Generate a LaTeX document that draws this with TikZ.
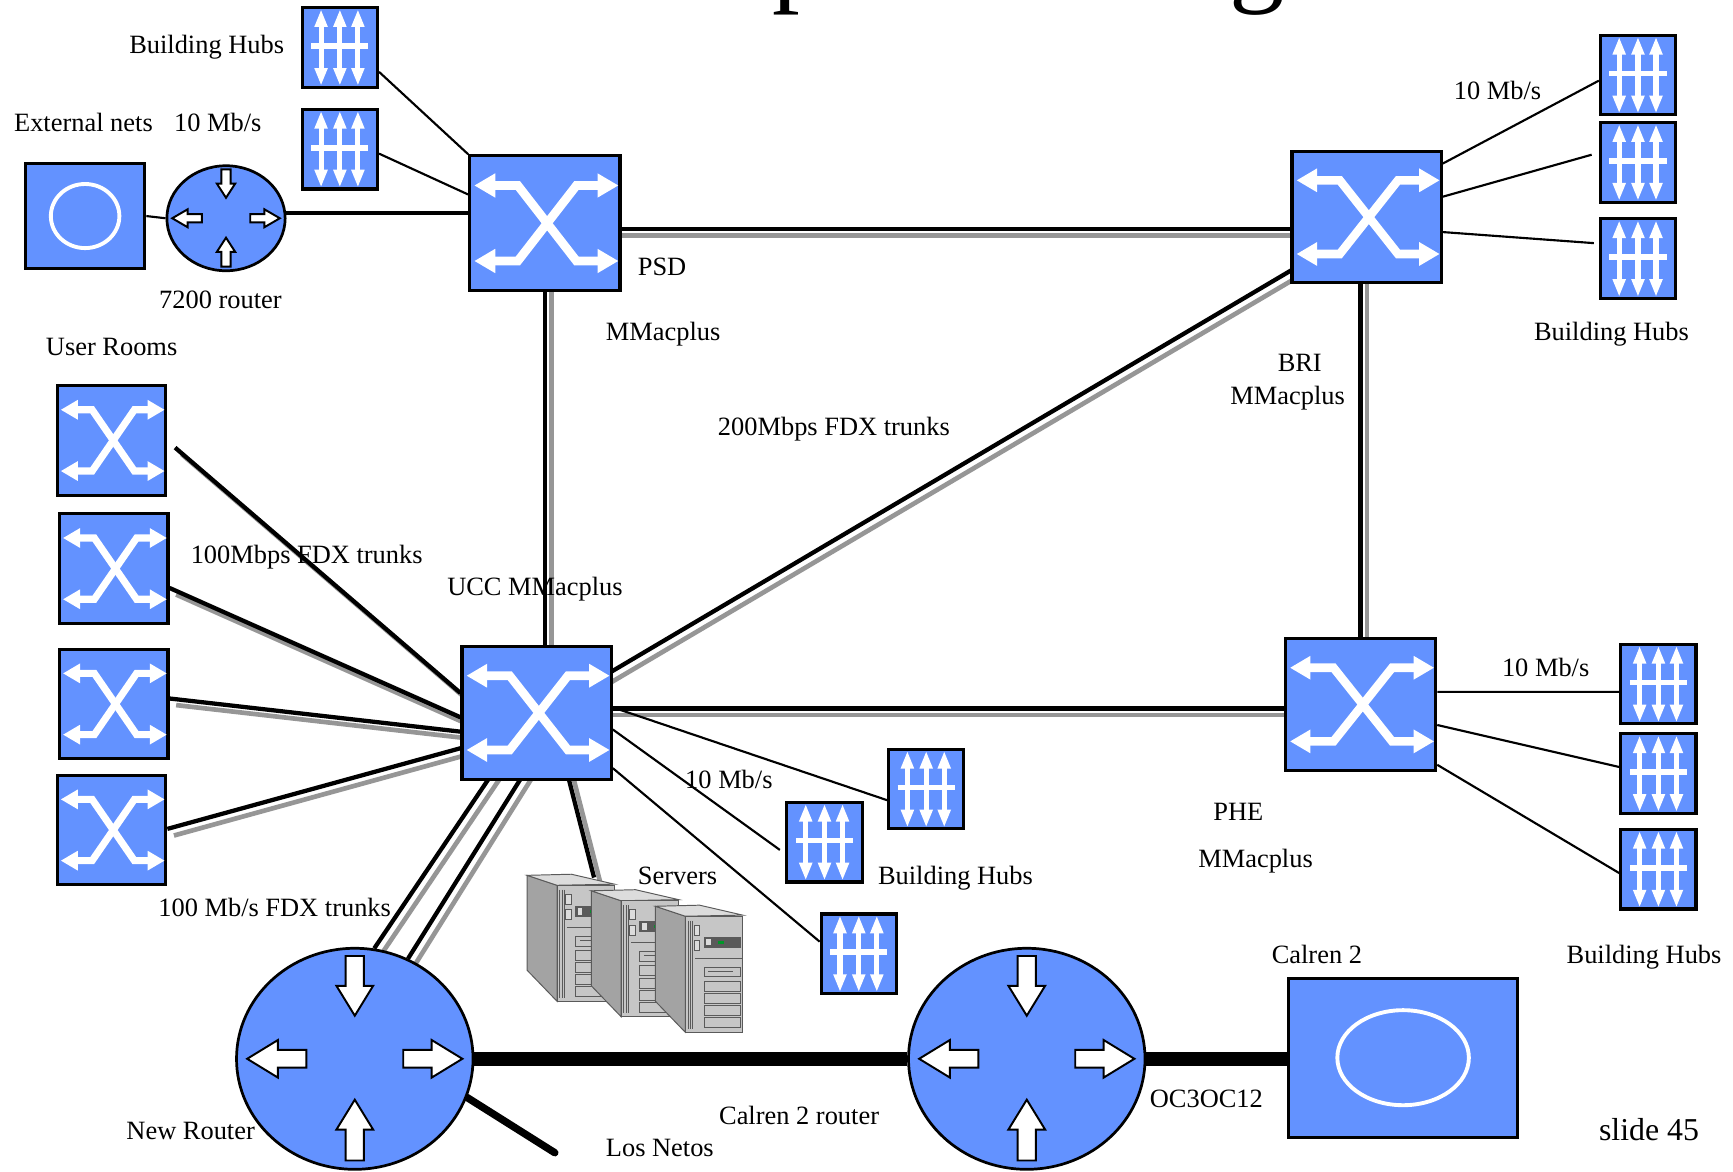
\documentclass[tikz,border=0pt]{standalone}
\usepackage{fontspec}
\setmainfont{Liberation Serif}
\usetikzlibrary{arrows.meta, shapes.geometric, backgrounds}

\definecolor{netblue}{RGB}{99,146,255}
\definecolor{trunkgray}{RGB}{150,150,150}
\definecolor{srvside}{RGB}{163,163,163}
\definecolor{srvfront}{RGB}{198,198,198}
\definecolor{srvtop}{RGB}{220,220,220}
\definecolor{srvdark}{RGB}{90,90,90}
\definecolor{srvled}{RGB}{0,150,40}

% ATM switch: blue box, white crossover with arrow ends
% #1 name, #2 x, #3 y, #4 width, #5 height
\newcommand{\netswitch}[5]{%
  \node[swbox, minimum width=#4cm, minimum height=#5cm] (#1) at (#2,#3) {};
  \begin{scope}[shift={(#1.center)}, xscale=#4, yscale=#5, line width=0.065*#5cm]
    \draw[xover] (-0.47,0.28) -- (-0.18,0.28) -- (0.21,-0.28) -- (0.49,-0.28);
    \draw[xover] (-0.47,-0.28) -- (-0.18,-0.28) -- (0.21,0.28) -- (0.49,0.28);
  \end{scope}}

% building hub: three double arrows and a cross bar
\newcommand{\nethub}[3]{%
  \node[hubbox] (#1) at (#2,#3) {};
  \begin{scope}[shift={(#1.center)}, xscale=0.68, yscale=0.72]
    \foreach \ax in {-0.25,0,0.24}
      \draw[hubarrow] (\ax,-0.48) -- (\ax,0.48);
    \draw[hubbar] (-0.38,0.02) -- (0.38,0.02);
  \end{scope}}

% router: blue ellipse with four block arrows
\newcommand{\netrouter}[5]{%
  \node[rtbox, minimum width=#4cm, minimum height=#5cm] (#1) at (#2,#3) {};
  \begin{scope}[shift={(#1.center)}, xscale=#4/2, yscale=#5/2]
    \draw[rtarrow] (-0.077,0.93) -- (0.077,0.93) -- (0.077,0.66) -- (0.155,0.66)
      -- (0,0.39) -- (-0.155,0.66) -- (-0.077,0.66) -- cycle;
    \draw[rtarrow] (-0.077,-0.92) -- (0.077,-0.92) -- (0.077,-0.64) -- (0.155,-0.64)
      -- (0,-0.37) -- (-0.155,-0.64) -- (-0.077,-0.64) -- cycle;
    \draw[rtarrow] (0.41,-0.08) -- (0.65,-0.08) -- (0.65,-0.17) -- (0.91,0)
      -- (0.65,0.17) -- (0.65,0.08) -- (0.41,0.08) -- cycle;
    \draw[rtarrow] (-0.41,-0.08) -- (-0.65,-0.08) -- (-0.65,-0.17) -- (-0.91,0)
      -- (-0.65,0.17) -- (-0.65,0.08) -- (-0.41,0.08) -- cycle;
  \end{scope}}

% outside network: blue box with a white ring
\newcommand{\netcloud}[7]{%
  \node[swbox, minimum width=#4cm, minimum height=#5cm] (#1) at (#2,#3) {};
  \draw[ring] (#1.center) ellipse [x radius=#6cm, y radius=#7cm];}

% server tower, #1/#2 = top left corner
\newcommand{\servertower}[2]{%
  \begin{scope}[shift={(#1,#2)}, x=0.01cm, y=-0.01cm, srvedge]
    \filldraw[fill=srvside] (0,0) -- (27,9) -- (27,114) -- (0,86) -- cycle;
    \filldraw[fill=srvtop] (0,0) -- (40,-1) -- (79,8) -- (27,9) -- cycle;
    \filldraw[fill=srvfront] (27,9) rectangle (79,114);
    \foreach \sx in {29.5,31.5,33.5}
      \draw (\sx,13) -- (\sx,111);
    \filldraw[fill=srvtop] (35,17) rectangle (40,26);
    \filldraw[fill=srvtop] (35,31) rectangle (40,40);
    \filldraw[fill=srvdark] (44,28) rectangle (77,37);
    \fill[srvtop] (46,29.5) rectangle (50,35.5);
    \fill[srvled] (57,31) rectangle (62,34);
    \draw (36,47) -- (79,47);
    \foreach \by in {55,68,79,90,101}
      \draw (44,\by) rectangle (77,\by+9);
    \draw (48,59) -- (70,59);
  \end{scope}}

\begin{document}
\begin{tikzpicture}[
    swbox/.style={rectangle, draw=black, fill=netblue, line width=0.8pt, inner sep=0pt},
    hubbox/.style={swbox, minimum width=0.68cm, minimum height=0.72cm},
    rtbox/.style={ellipse, draw=black, fill=netblue, line width=0.7pt, inner sep=0pt},
    xover/.style={draw=white, line join=miter, >={Triangle[length=0pt 2.4, width=0pt 2.6]}, <->},
    hubarrow/.style={draw=white, line width=1.3pt, >={Triangle[length=0pt 3.5, width=0pt 2.4]}, <->},
    hubbar/.style={draw=white, line width=1.5pt},
    rtarrow/.style={draw=black, fill=white, line width=0.5pt, line join=miter},
    ring/.style={draw=white, line width=1pt},
    srvedge/.style={draw=srvdark, line width=0.25pt},
    lbl/.style={font=\fontsize{6.8}{8}\selectfont, inner sep=0pt, text height=5.4pt, text depth=0.8pt},
    link/.style={line width=0.55pt},
    thickline/.style={line width=1.1pt},
    trunk/.style={line width=1.1pt, preaction={draw=trunkgray, line width=1.2pt,
      transform canvas={xshift=1.7pt, yshift=-1.7pt}}},
    fatline/.style={line width=3.6pt},
    netosline/.style={line width=1.9pt, line cap=round}]

  \useasboundingbox (0,0) rectangle (15.68,10.60);

  % what is left of the heading
  \node[anchor=base west, inner sep=0pt, font=\fontsize{28.5}{30}\selectfont]
    (headp) at (6.98,10.68) {p};
  \node[anchor=base west, inner sep=0pt, font=\fontsize{28.5}{30}\selectfont]
    (headg) at (11.12,10.68) {g};

  % PSD corner
  \nethub{hubA}{3.075}{10.17}
  \nethub{hubB}{3.075}{9.25}
  \netcloud{extnet}{0.77}{8.645}{1.08}{0.95}{0.31}{0.29}
  \netrouter{r7200}{2.045}{8.625}{1.07}{0.95}
  \netswitch{psd}{4.93}{8.58}{1.36}{1.22}

  % BRI corner
  \netswitch{bri}{12.365}{8.635}{1.35}{1.19}
  \nethub{hubC}{14.82}{9.92}
  \nethub{hubD}{14.82}{9.13}
  \nethub{hubE}{14.82}{8.26}

  % UCC and the user rooms
  \netswitch{ucc}{4.855}{4.15}{1.35}{1.20}
  \netswitch{roomA}{1.01}{6.615}{0.98}{0.99}
  \netswitch{roomB}{1.03}{5.455}{0.98}{0.99}
  \netswitch{roomC}{1.03}{4.23}{0.98}{0.99}
  \netswitch{roomD}{1.01}{3.09}{0.98}{0.99}
  \nethub{hubF}{8.38}{3.46}
  \nethub{hubG}{7.46}{2.98}
  \nethub{hubH}{7.77}{1.97}

  % PHE corner
  \netswitch{phe}{12.31}{4.225}{1.36}{1.19}
  \nethub{hubI}{15.005}{4.41}
  \nethub{hubJ}{15.005}{3.60}
  \nethub{hubK}{15.005}{2.735}

  % routers and Calren 2
  \netrouter{newrt}{3.21}{1.02}{2.14}{2.00}
  \netrouter{calrt}{9.29}{1.02}{2.14}{2.00}
  \netcloud{calren}{12.695}{1.03}{2.07}{1.44}{0.595}{0.43}

  \coordinate (srvtop) at (5.375,2.66);
  \coordinate (netos) at (5.02,0.17);
  \servertower{4.77}{2.68}
  \servertower{5.35}{2.54}
  \servertower{5.93}{2.40}

  \begin{scope}[on background layer]
    % 200Mbps ring
    \coordinate (ringN) at ([yshift=-0.5mm]psd.center);
    \coordinate (ringS) at ([yshift=0.4mm]ucc.center);
    \draw[trunk] (ringN) -- (ringN -| bri.center);
    \draw[trunk] (psd.center) -- (psd.center |- ucc.center);
    \draw[trunk] (phe.center) -- (phe.center |- bri.center);
    \draw[trunk] (ringS) -- (ringS -| phe.center);
    \draw[trunk, shorten <=-2mm, shorten >=-2mm]
      ([yshift=3.8mm]ucc.east) -- ([yshift=-4.85mm]bri.west);

    % user rooms
    \draw[trunk] ([xshift=0.7mm, yshift=-0.65mm]roomA.east) -- ([yshift=1.8mm]ucc.west);
    \draw[trunk] ([yshift=-1.75mm]roomB.east) -- ([yshift=-0.4mm]ucc.west);
    \draw[trunk] ([yshift=0.5mm]roomC.east) -- ([yshift=-1.7mm]ucc.west);
    \draw[trunk] ([yshift=0.1mm]roomD.east) -- ([yshift=-3.2mm]ucc.west);

    % down to the new router and the servers
    \draw[trunk, shorten <=-2mm] ([xshift=-4.45mm]ucc.south) -- (newrt.80);
    \draw[trunk, shorten <=-2mm] ([xshift=-1.55mm]ucc.south) -- (newrt.62);
    \draw[trunk, shorten <=-2mm] ([xshift=2.95mm]ucc.south) -- (srvtop);

    % 10 Mb/s hub links
    \draw[link]
      (extnet.east) -- (r7200.west)
      ([yshift=-2.2mm]hubA.east) -- (psd.north west)
      ([yshift=-0.4mm]hubB.east) -- ([yshift=2.6mm]psd.west)
      ([yshift=4.85mm]bri.east) -- ([yshift=-0.5mm]hubC.west)
      ([yshift=1.85mm]bri.east) -- ([xshift=-0.65mm, yshift=0.7mm]hubD.west)
      ([yshift=-1.35mm]bri.east) -- ([xshift=-0.45mm, yshift=1.4mm]hubE.west)
      ([yshift=0.5mm]ucc.east) -- ([yshift=-1mm]hubF.west)
      ([yshift=-1.5mm]ucc.east) -- ([xshift=-0.5mm, yshift=-0.7mm]hubG.west)
      ([yshift=-5mm]ucc.east) -- ([yshift=1.1mm]hubH.west)
      ([yshift=1.15mm]phe.east) -- ([yshift=-0.7mm]hubI.west)
      ([yshift=-1.85mm]phe.east) -- ([yshift=0.6mm]hubJ.west)
      ([yshift=-5.45mm]phe.east) -- ([yshift=-0.35mm]hubK.west);

    \coordinate (uplink) at ([xshift=-1mm, yshift=0.5mm]r7200.east);
    \draw[thickline] (uplink) -- (uplink -| psd.west);

    % OC3/OC12 to Calren 2
    \draw[fatline] (newrt.east) -- (calrt.west);
    \draw[fatline] (calrt.east) -- (calrt.east -| calren.west);
    \draw[netosline] (newrt.-19) -- (netos);
  \end{scope}

  % labels
  \node[lbl] (hubsPSD) at (1.87,10.20) {Building Hubs};
  \node[lbl] (extlbl) at (0.755,9.49) {External nets};
  \node[lbl] (rateExt) at (1.97,9.49) {10 Mb/s};
  \node[lbl] (r7200lbl) at (1.995,7.89) {7200 router};
  \node[lbl] (psdlbl) at (5.99,8.19) {PSD};
  \node[lbl] (psdmm) at (6.00,7.60) {MMacplus};
  \node[lbl] (rateBRI) at (13.55,9.78) {10 Mb/s};
  \node[lbl] (hubsBRI) at (14.58,7.60) {Building Hubs};
  \node[lbl] (brilbl) at (11.76,7.32) {BRI};
  \node[lbl] (brimm) at (11.65,7.02) {MMacplus};
  \node[lbl] (trunk200) at (7.545,6.74) {200Mbps FDX trunks};
  \node[lbl] (roomslbl) at (1.01,7.46) {User Rooms};
  \node[lbl] (trunk100) at (2.775,5.58) {100Mbps FDX trunks};
  \node[lbl] (ucclbl) at (4.84,5.29) {UCC MMacplus};
  \node[lbl] (rateUCC) at (6.595,3.55) {10 Mb/s};
  \node[lbl] (hubsUCC) at (8.645,2.68) {Building Hubs};
  \node[lbl] (srvlbl) at (6.13,2.68) {Servers};
  \node[lbl] (trunkRt) at (2.485,2.39) {100 Mb/s FDX trunks};
  \node[lbl] (newrtlbl) at (1.725,0.37) {New Router};
  \node[lbl] (netoslbl) at (5.97,0.22) {Los Netos};
  \node[lbl] (calrtlbl) at (7.23,0.51) {Calren 2 router};
  \node[lbl] (oclbl) at (10.915,0.66) {OC3OC12};
  \node[lbl] (calrenlbl) at (11.915,1.96) {Calren 2};
  \node[lbl] (phelbl) at (11.205,3.26) {PHE};
  \node[lbl] (phemm) at (11.36,2.83) {MMacplus};
  \node[lbl] (ratePHE) at (13.985,4.56) {10 Mb/s};
  \node[lbl] (hubsPHE) at (14.875,1.96) {Building Hubs};
  \node[lbl, font=\fontsize{8.2}{10}\selectfont] (slidelbl) at (14.92,0.36) {slide 45};
\end{tikzpicture}
\end{document}
